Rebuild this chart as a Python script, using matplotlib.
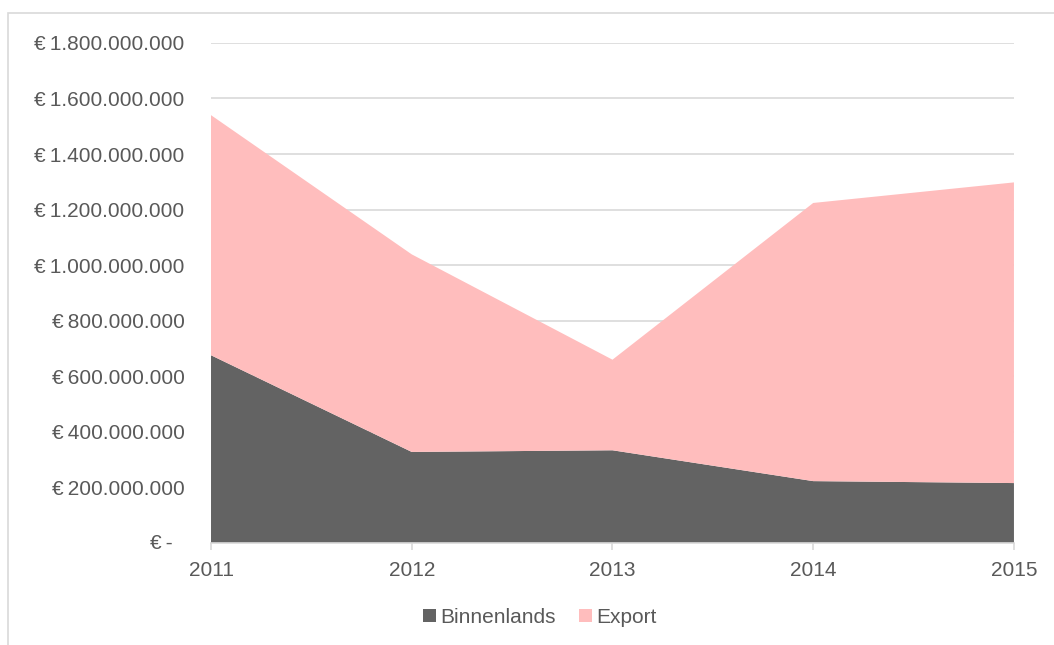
import matplotlib
matplotlib.use("Agg")
import matplotlib.pyplot as plt
import matplotlib.ticker as mticker
import matplotlib.transforms as mtransforms
from matplotlib.patches import Rectangle

plt.rcParams['font.family'] = ['Liberation Sans', 'DejaVu Sans']

years = [2011, 2012, 2013, 2014, 2015]
binnenlands = [676e6, 328e6, 334e6, 223e6, 216e6]
export = [864e6, 711e6, 326e6, 1001e6, 1082e6]
series_names = ['Binnenlands', 'Export']
series_colors = ['#636363', '#ffbdbd']

text_color = '#595959'
grid_color = '#d9d9d9'
fs = 15


def euro(v, pos):
    if v == 0:
        return ''
    s = '{:,.0f}'.format(v).replace(',', '.')
    return '€\u2009' + s


fig = plt.figure(figsize=(10.54, 6.45), dpi=100)
ax = fig.add_axes([0.2002, 0.158, 0.7618, 0.7755])

ax.stackplot(years, binnenlands, export, colors=series_colors,
             labels=series_names, linewidth=0)

ax.set_xlim(years[0], years[-1])
ax.set_ylim(0, 1.8e9)
ax.yaxis.set_major_locator(mticker.MultipleLocator(2e8))
ax.yaxis.set_major_formatter(mticker.FuncFormatter(euro))
ax.set_xticks(years)
ax.set_xticklabels([str(y) for y in years])

ax.grid(axis='y', color=grid_color, linewidth=1.2)
ax.set_axisbelow(True)
for side in ['top', 'right', 'left']:
    ax.spines[side].set_visible(False)
ax.spines['bottom'].set_color(grid_color)
ax.spines['bottom'].set_linewidth(1.2)
ax.spines['bottom'].set_zorder(3)

ax.tick_params(axis='y', length=0, pad=19, labelsize=fs, labelcolor=text_color)
ax.tick_params(axis='x', length=5, width=1.2, color=grid_color, pad=8,
               labelsize=fs, labelcolor=text_color)

# zero label in accounting style: dash padded away from the axis
zero_tr = mtransforms.blended_transform_factory(ax.transAxes, ax.transData) + \
    mtransforms.ScaledTranslation(-0.38, 0, fig.dpi_scale_trans)
ax.text(0, 0, '€\u2009-', transform=zero_tr, ha='right', va='center',
        fontsize=fs, color=text_color)

leg = fig.legend(loc='center', bbox_to_anchor=(0.512, 0.043), ncol=2, frameon=False,
                 fontsize=fs, handlelength=0.62, handleheight=0.62, handletextpad=0.2,
                 columnspacing=1.1)
for t in leg.get_texts():
    t.set_color(text_color)

fig.patches.append(Rectangle((8 / 1054, -0.1), 1.2, 1.1 - 13 / 645, transform=fig.transFigure,
                             fill=False, edgecolor=grid_color, linewidth=1.2))

fig.savefig('out.png', dpi=100)
